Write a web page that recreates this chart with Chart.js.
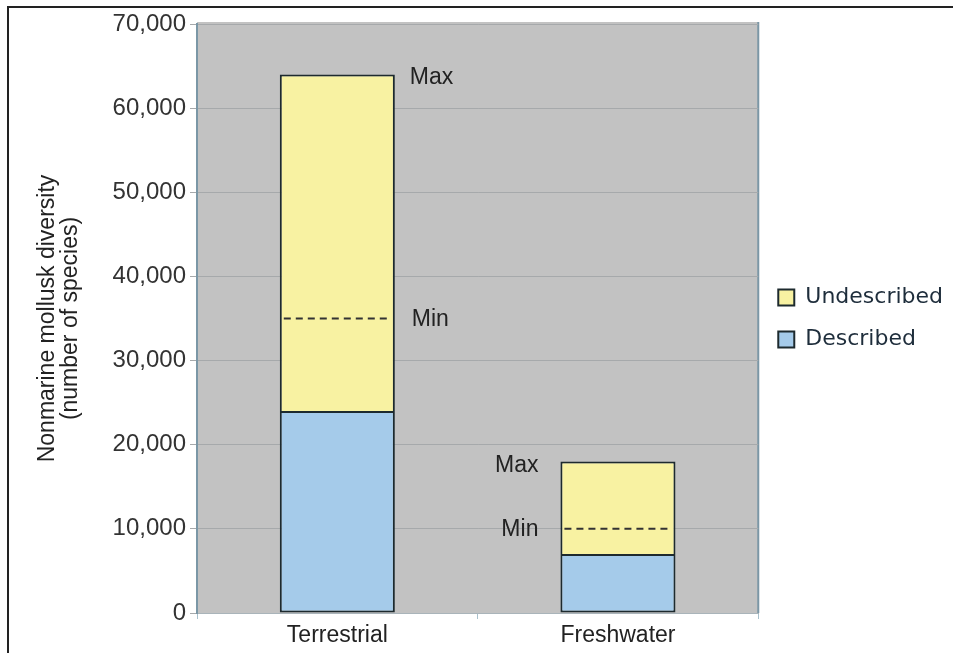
<!DOCTYPE html>
<html>
<head>
<meta charset="utf-8">
<script src="https://cdn.jsdelivr.net/npm/chart.js@4.4.1/dist/chart.umd.min.js"></script>
<style>
html, body { margin: 0; padding: 0; background: #fff; }
#wrap { position: relative; width: 953px; height: 653px; }
</style>
</head>
<body>
<div id="wrap"><canvas id="mollusk-chart"></canvas></div>
<script>
// values
var categories = ["Terrestrial", "Freshwater"];
var described = [24000, 7000];
var undescribedMax = [40000, 11000];
var minTotals = [35000, 10000];
var yTicks = [0, 10000, 20000, 30000, 40000, 50000, 60000, 70000];

var tickFont = "'Liberation Sans', Arial, sans-serif";

// gray plot area, outer frame, dashed min lines and Max/Min labels
var figurePlugin = {
    id: 'figure',
    beforeDraw: function(chart) {
        var ctx = chart.ctx, area = chart.chartArea;
        ctx.save();
        ctx.fillStyle = '#ffffff';
        ctx.fillRect(0, 0, chart.width, chart.height);
        ctx.strokeStyle = '#222';
        ctx.lineWidth = 2;
        ctx.beginPath();
        ctx.moveTo(8, chart.height);
        ctx.lineTo(8, 7);
        ctx.lineTo(chart.width, 7);
        ctx.stroke();
        ctx.fillStyle = '#c2c2c2';
        ctx.fillRect(area.left, area.top - 2, area.right - area.left, area.bottom - area.top + 2);
        ctx.strokeStyle = '#7b97a6';
        ctx.lineWidth = 2;
        ctx.beginPath();
        ctx.moveTo(area.right, area.top - 2);
        ctx.lineTo(area.right, area.bottom);
        ctx.stroke();
        ctx.restore();
    },
    afterDatasetsDraw: function(chart, args, opts) {
        var ctx = chart.ctx;
        var y = chart.scales.y;
        var bars = chart.getDatasetMeta(1).data;
        ctx.save();
        ctx.font = '23px ' + tickFont;
        ctx.fillStyle = '#222';
        ctx.textBaseline = 'middle';
        bars.forEach(function(bar, i) {
            var half = bar.width / 2;
            var yMin = y.getPixelForValue(minTotals[i]);
            var yMax = y.getPixelForValue(described[i] + undescribedMax[i]);
            ctx.strokeStyle = '#333';
            ctx.lineWidth = 2;
            ctx.setLineDash([7, 5]);
            ctx.beginPath();
            ctx.moveTo(bar.x - half + 4, yMin);
            ctx.lineTo(bar.x + half - 4, yMin);
            ctx.stroke();
            ctx.setLineDash([]);
            if (opts.sides[i] === 'right') {
                ctx.textAlign = 'left';
                ctx.fillText('Max', bar.x + half + 15, yMax + 3);
                ctx.fillText('Min', bar.x + half + 17, yMin + 1);
            } else {
                ctx.textAlign = 'right';
                ctx.fillText('Max', bar.x - half - 22, yMax + 4);
                ctx.fillText('Min', bar.x - half - 22, yMin + 1);
            }
        });
        ctx.restore();
    }
};

new Chart(document.getElementById("mollusk-chart"), {
    type: 'bar',
    data: {
        labels: categories,
        datasets: [
            {
                label: 'Described',
                data: described,
                backgroundColor: '#a5cbea',
                borderColor: '#1d2a2e',
                borderWidth: 2,
                borderSkipped: false
            },
            {
                label: 'Undescribed',
                data: undescribedMax,
                backgroundColor: '#f8f2a2',
                borderColor: '#1d2a2e',
                borderWidth: 2,
                borderSkipped: 'start'
            }
        ]
    },
    plugins: [figurePlugin],
    options: {
        responsive: true,
        maintainAspectRatio: false,
        animation: false,
        layout: { padding: { top: 24, right: 0, left: 0, bottom: 0 } },
        datasets: {
            bar: { categoryPercentage: 1.0, barPercentage: 0.41 }
        },
        plugins: {
            figure: { sides: ['right', 'left'] },
            tooltip: { enabled: false },
            legend: {
                position: 'right',
                fullSize: false,
                reverse: true,
                labels: {
                    boxWidth: 16,
                    boxHeight: 16,
                    padding: 20,
                    color: '#1e2d3b',
                    font: { family: "'DejaVu Sans', Verdana, sans-serif", size: 22 }
                }
            }
        },
        scales: {
            x: {
                stacked: true,
                afterFit: function(scale) { scale.height = 40; },
                grid: {
                    offset: true,
                    drawOnChartArea: false,
                    tickLength: 6,
                    color: '#a9c0cc'
                },
                border: { color: '#a9b4ba', width: 1 },
                ticks: {
                    padding: 3,
                    color: '#222',
                    font: { family: tickFont, size: 23 }
                }
            },
            y: {
                stacked: true,
                min: 0,
                max: 70000,
                afterFit: function(scale) { scale.width = 197; },
                afterBuildTicks: function(scale) {
                    scale.ticks = yTicks.map(function(v) { return { value: v }; });
                },
                grid: { color: '#a6a9ab', tickLength: 7 },
                border: { color: '#7b97a6', width: 2 },
                ticks: {
                    padding: 4,
                    color: '#333',
                    font: { family: tickFont, size: 24 }
                },
                title: {
                    display: true,
                    text: ['Nonmarine mollusk diversity', '(number of species)'],
                    color: '#222',
                    padding: { top: 36, bottom: 0 },
                    font: { family: tickFont, size: 23, lineHeight: '23px' }
                }
            }
        }
    }
});
</script>
</body>
</html>
